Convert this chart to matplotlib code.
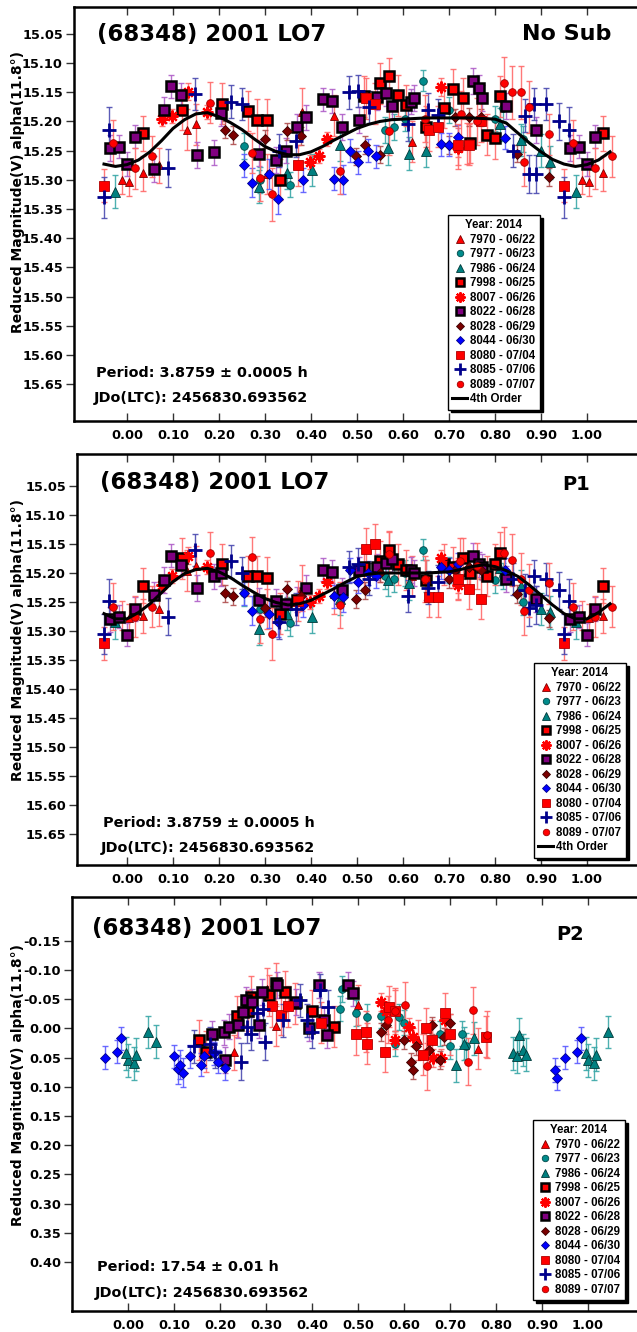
import numpy as np
import matplotlib
matplotlib.use("Agg")
import matplotlib.pyplot as plt
from matplotlib.lines import Line2D

# ---------------- data ----------------
series_names = ["7970", "7977", "7986", "7998", "8007", "8022", "8028", "8044", "8080", "8085", "8089"]
series_dates = ["06/22", "06/23", "06/24", "06/25", "06/26", "06/28", "06/29", "06/30", "07/04", "07/06", "07/07"]

# P1 phase (shared by "No Sub" and "P1" panels), No-Sub mags, P1 mags, errors
ph_7970 = [0.005, 0.035, 0.07, 0.13, 0.15, 0.305, 0.38, 0.45, 0.62, 0.72, 0.74, 0.99]
m0_7970 = [15.303, 15.289, 15.275, 15.214, 15.205, 15.290, 15.183, 15.190, 15.235, 15.246, 15.238, 15.300]
m1_7970 = [15.278, 15.274, 15.262, 15.196, 15.188, 15.262, 15.226, 15.236, 15.205, 15.212, 15.198, 15.273]
e_7970 = [0.025, 0.030, 0.030, 0.035, 0.035, 0.035, 0.040, 0.035, 0.035, 0.035, 0.035, 0.025]

ph_7977 = [0.255, 0.29, 0.355, 0.56, 0.58, 0.605, 0.644, 0.70, 0.80, 0.817, 0.86]
m0_7977 = [15.242, 15.300, 15.308, 15.215, 15.210, 15.195, 15.130, 15.180, 15.195, 15.177, 15.230]
m1_7977 = [15.235, 15.262, 15.286, 15.205, 15.210, 15.200, 15.160, 15.195, 15.212, 15.205, 15.250]
e_7977 = [0.022, 0.022, 0.022, 0.022, 0.022, 0.022, 0.018, 0.022, 0.022, 0.022, 0.022]

ph_7986 = [0.287, 0.348, 0.403, 0.462, 0.567, 0.613, 0.65, 0.81, 0.857, 0.90, 0.92, 0.975]
m0_7986 = [15.312, 15.288, 15.283, 15.240, 15.246, 15.255, 15.250, 15.205, 15.232, 15.250, 15.270, 15.320]
m1_7986 = [15.296, 15.270, 15.276, 15.245, 15.212, 15.218, 15.205, 15.192, 15.222, 15.262, 15.268, 15.285]
e_7986 = [0.028, 0.028, 0.028, 0.028, 0.028, 0.028, 0.028, 0.028, 0.028, 0.028, 0.028, 0.028]

ph_7998 = [0.034, 0.12, 0.207, 0.262, 0.283, 0.304, 0.332, 0.515, 0.55, 0.57, 0.59, 0.607, 0.65, 0.69, 0.708, 0.73, 0.745, 0.782, 0.80, 0.81]
m0_7998 = [15.220, 15.180, 15.170, 15.182, 15.197, 15.197, 15.300, 15.157, 15.135, 15.122, 15.155, 15.172, 15.209, 15.177, 15.145, 15.160, 15.237, 15.223, 15.229, 15.157]
m1_7998 = [15.222, 15.175, 15.185, 15.205, 15.206, 15.208, 15.270, 15.190, 15.180, 15.160, 15.185, 15.195, 15.212, 15.185, 15.190, 15.175, 15.200, 15.205, 15.185, 15.165]
e_7998 = [0.030, 0.035, 0.035, 0.035, 0.035, 0.035, 0.035, 0.035, 0.035, 0.030, 0.035, 0.035, 0.035, 0.035, 0.035, 0.035, 0.035, 0.035, 0.035, 0.035]

ph_8007 = [0.076, 0.098, 0.133, 0.173, 0.397, 0.418, 0.434, 0.682, 0.72]
m0_8007 = [15.196, 15.190, 15.149, 15.183, 15.270, 15.260, 15.230, 15.141, 15.246]
m1_8007 = [15.220, 15.205, 15.170, 15.190, 15.250, 15.240, 15.215, 15.175, 15.220]
e_8007 = [0.012, 0.012, 0.015, 0.012, 0.012, 0.012, 0.012, 0.015, 0.015]

ph_8022 = [0.0, 0.018, 0.059, 0.08, 0.096, 0.117, 0.153, 0.19, 0.205, 0.287, 0.324, 0.345, 0.37, 0.39, 0.427,
           0.445, 0.468, 0.504, 0.543, 0.563, 0.577, 0.618, 0.623, 0.752, 0.765, 0.772, 0.824, 0.89, 0.962, 0.982]
m0_8022 = [15.273, 15.226, 15.282, 15.180, 15.140, 15.155, 15.257, 15.253, 15.186, 15.255, 15.266, 15.250, 15.210, 15.193, 15.162,
           15.165, 15.210, 15.198, 15.158, 15.152, 15.173, 15.166, 15.160, 15.131, 15.143, 15.160, 15.173, 15.215, 15.246, 15.243]
m1_8022 = [15.306, 15.262, 15.238, 15.212, 15.170, 15.186, 15.226, 15.206, 15.200, 15.247, 15.249, 15.253, 15.246, 15.226, 15.194,
           15.198, 15.230, 15.195, 15.190, 15.183, 15.176, 15.195, 15.200, 15.170, 15.185, 15.190, 15.210, 15.245, 15.280, 15.275]
e_8022 = [0.020, 0.020, 0.022, 0.022, 0.020, 0.020, 0.022, 0.022, 0.022, 0.022, 0.022, 0.022, 0.022, 0.022, 0.020,
          0.020, 0.022, 0.022, 0.022, 0.022, 0.022, 0.022, 0.022, 0.022, 0.022, 0.022, 0.022, 0.022, 0.022, 0.020]

ph_8028 = [0.212, 0.23, 0.30, 0.348, 0.379, 0.497, 0.517, 0.55, 0.699, 0.712, 0.743, 0.77, 0.848, 0.918]
m0_8028 = [15.214, 15.223, 15.230, 15.217, 15.225, 15.260, 15.240, 15.257, 15.240, 15.193, 15.192, 15.193, 15.255, 15.295]
m1_8028 = [15.235, 15.240, 15.260, 15.228, 15.240, 15.245, 15.230, 15.200, 15.210, 15.195, 15.190, 15.195, 15.236, 15.278]
e_8028 = [0.015, 0.015, 0.015, 0.015, 0.015, 0.015, 0.015, 0.015, 0.015, 0.015, 0.015, 0.015, 0.015, 0.015]

ph_8044 = [0.254, 0.271, 0.309, 0.329, 0.383, 0.45, 0.469, 0.484, 0.503, 0.524, 0.541, 0.682, 0.699, 0.719, 0.822]
m0_8044 = [15.275, 15.305, 15.290, 15.333, 15.300, 15.298, 15.300, 15.250, 15.270, 15.250, 15.260, 15.239, 15.240, 15.226, 15.228]
m1_8044 = [15.235, 15.265, 15.270, 15.285, 15.255, 15.240, 15.242, 15.195, 15.215, 15.200, 15.205, 15.190, 15.195, 15.185, 15.195]
e_8044 = [0.020, 0.025, 0.025, 0.025, 0.020, 0.020, 0.025, 0.020, 0.020, 0.020, 0.020, 0.020, 0.020, 0.020, 0.020]

ph_8080 = [0.371, 0.52, 0.54, 0.656, 0.677, 0.72, 0.743, 0.77, 0.949]
m0_8080 = [15.275, 15.160, 15.170, 15.215, 15.209, 15.240, 15.240, 15.200, 15.310]
m1_8080 = [15.248, 15.158, 15.150, 15.241, 15.241, 15.210, 15.227, 15.244, 15.321]
e_8080 = [0.035, 0.035, 0.035, 0.035, 0.035, 0.035, 0.035, 0.035, 0.028]

ph_8085 = [0.09, 0.147, 0.225, 0.25, 0.33, 0.368, 0.482, 0.503, 0.525, 0.611, 0.654, 0.677, 0.84, 0.866,
           0.874, 0.885, 0.89, 0.91, 0.94, 0.95, 0.96]
m0_8085 = [15.280, 15.153, 15.166, 15.170, 15.250, 15.233, 15.150, 15.148, 15.175, 15.205, 15.180, 15.189, 15.250, 15.190,
           15.290, 15.170, 15.290, 15.170, 15.200, 15.330, 15.214]
m1_8085 = [15.275, 15.160, 15.180, 15.200, 15.285, 15.262, 15.190, 15.185, 15.210, 15.240, 15.225, 15.215, 15.210, 15.230,
           15.260, 15.205, 15.255, 15.210, 15.230, 15.305, 15.248]
e_8085 = [0.032, 0.028, 0.028, 0.028, 0.028, 0.028, 0.028, 0.028, 0.028, 0.028, 0.028, 0.028, 0.028, 0.028,
          0.032, 0.028, 0.032, 0.028, 0.032, 0.035, 0.038]

ph_8089 = [0.018, 0.054, 0.18, 0.272, 0.29, 0.315, 0.462, 0.57, 0.647, 0.725, 0.76, 0.82, 0.838, 0.857, 0.862, 0.874, 0.918, 0.97]
m0_8089 = [15.280, 15.260, 15.168, 15.254, 15.297, 15.325, 15.285, 15.217, 15.195, 15.187, 15.200, 15.135, 15.150, 15.150, 15.270, 15.175, 15.222, 15.237]
m1_8089 = [15.275, 15.258, 15.165, 15.173, 15.280, 15.305, 15.255, 15.168, 15.210, 15.180, 15.188, 15.165, 15.178, 15.210, 15.266, 15.230, 15.218, 15.258]
e_8089 = [0.035, 0.035, 0.035, 0.035, 0.040, 0.045, 0.040, 0.040, 0.040, 0.040, 0.040, 0.045, 0.045, 0.045, 0.040, 0.045, 0.035, 0.040]

# P2 panel: phase, residual magnitude, error
p2ph_7970 = [0.231, 0.302, 0.322, 0.50, 0.63, 0.76]
p2m_7970 = [0.041, -0.068, -0.004, -0.040, 0.020, 0.035]
p2e_7970 = [0.030, 0.035, 0.035, 0.035, 0.035, 0.035]

p2ph_7977 = [0.46, 0.466, 0.496, 0.52, 0.55, 0.58, 0.589, 0.60, 0.678, 0.70, 0.726, 0.735]
p2m_7977 = [-0.034, -0.068, -0.026, -0.020, -0.022, 0.026, -0.020, -0.010, 0.009, 0.030, 0.009, 0.030]
p2e_7977 = [0.022, 0.022, 0.022, 0.022, 0.022, 0.022, 0.022, 0.022, 0.022, 0.022, 0.022, 0.022]

p2ph_7986 = [0.0, 0.012, 0.017, 0.044, 0.06, 0.713, 0.73, 0.753, 0.837, 0.845, 0.85, 0.858, 0.865, 0.996]
p2m_7986 = [0.055, 0.060, 0.045, 0.006, 0.023, 0.063, 0.026, 0.017, 0.043, 0.048, 0.011, 0.037, 0.045, 0.043]
p2e_7986 = [0.028, 0.028, 0.028, 0.028, 0.028, 0.028, 0.028, 0.028, 0.028, 0.028, 0.028, 0.028, 0.028, 0.028]

p2ph_7998 = [0.155, 0.17, 0.238, 0.26, 0.267, 0.307, 0.322, 0.342, 0.364, 0.40, 0.448]
p2m_7998 = [0.020, 0.040, -0.021, -0.030, -0.054, -0.057, -0.077, -0.063, -0.043, -0.030, -0.003]
p2e_7998 = [0.035, 0.035, 0.035, 0.035, 0.035, 0.035, 0.035, 0.035, 0.035, 0.035, 0.035]

p2ph_8007 = [0.55, 0.56, 0.58, 0.611, 0.62, 0.664, 0.68, 0.69]
p2m_8007 = [-0.045, -0.030, 0.020, -0.003, 0.015, 0.051, 0.050, -0.015]
p2e_8007 = [0.015, 0.015, 0.015, 0.015, 0.015, 0.015, 0.015, 0.015]

p2ph_8022 = [0.183, 0.208, 0.211, 0.22, 0.24, 0.25, 0.256, 0.27, 0.284, 0.291, 0.324, 0.366, 0.394, 0.416, 0.426, 0.433, 0.479, 0.49]
p2m_8022 = [0.010, 0.007, 0.054, -0.003, -0.006, -0.028, -0.049, -0.045, -0.006, -0.062, -0.074, -0.045, 0.000, -0.074, -0.014, 0.011, -0.074, -0.060]
p2e_8022 = [0.022, 0.022, 0.022, 0.022, 0.022, 0.022, 0.022, 0.022, 0.022, 0.022, 0.022, 0.022, 0.022, 0.022, 0.022, 0.022, 0.022, 0.022]

p2ph_8028 = [0.55, 0.56, 0.60, 0.616, 0.62, 0.625, 0.655, 0.66, 0.678, 0.687, 0.70]
p2m_8028 = [0.006, -0.005, 0.020, 0.057, 0.071, 0.030, 0.037, -0.005, 0.054, 0.014, -0.010]
p2e_8028 = [0.015, 0.015, 0.015, 0.015, 0.015, 0.015, 0.015, 0.015, 0.015, 0.015, 0.015]

p2ph_8044 = [0.10, 0.108, 0.114, 0.12, 0.134, 0.159, 0.166, 0.187, 0.196, 0.21, 0.929, 0.933, 0.951, 0.977, 0.984]
p2m_8044 = [0.048, 0.070, 0.062, 0.076, 0.048, 0.062, 0.048, 0.043, 0.057, 0.068, 0.071, 0.085, 0.050, 0.040, 0.017]
p2e_8044 = [0.020, 0.025, 0.025, 0.025, 0.020, 0.020, 0.020, 0.020, 0.020, 0.020, 0.020, 0.020, 0.020, 0.020, 0.020]

p2ph_8080 = [0.313, 0.333, 0.348, 0.42, 0.496, 0.517, 0.519, 0.558, 0.567, 0.58, 0.642, 0.647, 0.66, 0.69, 0.70, 0.779]
p2m_8080 = [-0.038, -0.023, -0.038, -0.010, 0.010, 0.006, 0.026, 0.040, -0.037, -0.030, 0.045, 0.000, 0.020, -0.026, 0.010, 0.014]
p2e_8080 = [0.035, 0.035, 0.035, 0.035, 0.035, 0.035, 0.035, 0.035, 0.035, 0.035, 0.035, 0.035, 0.035, 0.035, 0.035, 0.035]

p2ph_8085 = [0.143, 0.178, 0.19, 0.245, 0.258, 0.267, 0.28, 0.293, 0.298, 0.337, 0.373, 0.39, 0.40, 0.417, 0.435]
p2m_8085 = [0.031, 0.026, 0.040, 0.057, -0.003, 0.009, -0.026, -0.034, 0.023, -0.014, -0.048, -0.014, 0.006, -0.065, -0.037]
p2e_8085 = [0.028, 0.028, 0.028, 0.032, 0.028, 0.028, 0.028, 0.028, 0.032, 0.028, 0.028, 0.028, 0.028, 0.028, 0.028]

p2ph_8089 = [0.565, 0.58, 0.602, 0.651, 0.74, 0.749, 0.78]
p2m_8089 = [-0.015, -0.030, -0.040, 0.065, 0.057, -0.031, 0.011]
p2e_8089 = [0.040, 0.040, 0.040, 0.040, 0.040, 0.040, 0.040]

# 4th-order fit curves
fit_phase = [0.0, 0.025, 0.05, 0.075, 0.1, 0.125, 0.15, 0.175, 0.2, 0.225, 0.25, 0.275, 0.3, 0.325, 0.35, 0.375, 0.4,
             0.425, 0.45, 0.475, 0.5, 0.525, 0.55, 0.575, 0.6, 0.625, 0.65, 0.675, 0.7, 0.725, 0.75, 0.775, 0.8,
             0.825, 0.85, 0.875, 0.9, 0.925, 0.95, 0.975, 1.0]
fit_nosub = [15.274, 15.266, 15.252, 15.233, 15.212, 15.197, 15.187, 15.185, 15.192, 15.202, 15.214, 15.229, 15.243,
             15.252, 15.257, 15.257, 15.252, 15.243, 15.232, 15.222, 15.212, 15.205, 15.200, 15.197, 15.196, 15.195,
             15.194, 15.194, 15.194, 15.194, 15.194, 15.195, 15.196, 15.203, 15.220, 15.237, 15.252, 15.265, 15.273,
             15.277, 15.274]
fit_p1 = [15.279, 15.268, 15.253, 15.234, 15.215, 15.201, 15.194, 15.192, 15.198, 15.208, 15.221, 15.233, 15.244,
          15.251, 15.255, 15.253, 15.247, 15.237, 15.227, 15.216, 15.206, 15.202, 15.200, 15.200, 15.200, 15.200,
          15.200, 15.199, 15.198, 15.194, 15.189, 15.186, 15.189, 15.196, 15.206, 15.221, 15.238, 15.255, 15.270,
          15.279, 15.279]

# ---------------- styling ----------------
styles = {
    "7970": dict(marker="^", mfc="#ff0000", mec="#7a0000", ms=6.0, mew=0.6, ecol="#ff6a6a"),
    "7977": dict(marker="o", mfc="#008b8b", mec="#004848", ms=5.5, mew=0.6, ecol="#3aa8a8"),
    "7986": dict(marker="^", mfc="#008080", mec="#003838", ms=6.5, mew=0.6, ecol="#3aa8a8"),
    "7998": dict(marker="s", mfc="#ff0000", mec="#000000", ms=7.6, mew=1.8, ecol="#ff6a6a"),
    "8007": dict(marker=(8, 2, 0), mfc="#ff0000", mec="#ff0000", ms=8.5, mew=1.6, ecol="#ff6a6a"),
    "8022": dict(marker="s", mfc="#800080", mec="#000000", ms=7.6, mew=1.8, ecol="#b060c8"),
    "8028": dict(marker="D", mfc="#7a0000", mec="#3a0000", ms=5.0, mew=0.6, ecol="#b05050"),
    "8044": dict(marker="D", mfc="#0000ff", mec="#00008b", ms=5.0, mew=0.6, ecol="#5a5aff"),
    "8080": dict(marker="s", mfc="#ff0000", mec="#b00000", ms=7.0, mew=0.6, ecol="#ff6a6a"),
    "8085": dict(marker="+", mfc="#00008b", mec="#00008b", ms=9.5, mew=2.0, ecol="#4a4ab0"),
    "8089": dict(marker="o", mfc="#ff0000", mec="#a00000", ms=5.5, mew=0.6, ecol="#ff6a6a"),
}

data_p = {}
g = globals()
for s in series_names:
    data_p[s] = dict(ph=g["ph_" + s], m0=g["m0_" + s], m1=g["m1_" + s], e=g["e_" + s],
                     p2ph=g["p2ph_" + s], p2m=g["p2m_" + s], p2e=g["p2e_" + s])


def wrap(ph, m, e):
    ph = np.asarray(ph, float); m = np.asarray(m, float); e = np.asarray(e, float)
    lo = ph > 0.945
    hi = ph < 0.055
    return (np.concatenate([ph, ph[lo] - 1, ph[hi] + 1]),
            np.concatenate([m, m[lo], m[hi]]),
            np.concatenate([e, e[lo], e[hi]]))


W, H = 637, 1332
fig = plt.figure(figsize=(W / 100, H / 100), dpi=100)
FONT = "DejaVu Sans"


def fx(x):
    return x / W


def fy(y):
    return 1 - y / H


def make_axes(left, top, bottom, zero_px):
    right = 640
    ax = fig.add_axes([fx(left), fy(bottom), (right - left) / W, (bottom - top) / H])
    x_lo = -(zero_px - left) / 460.0
    x_hi = 1.0 + (right - (zero_px + 460)) / 460.0
    ax.set_xlim(x_lo, x_hi)
    return ax


panels = [
    dict(left=74, top=7, bottom=421, zero=127, ylim=(15.713, 15.004), key="m0", fit=fit_nosub,
         yticks=[15.05 + 0.05 * i for i in range(13)], fmt="{:.2f}", tag="No Sub", tag_xy=(611, 34), tag_fs=16,
         title_xy=(97, 34), per="Period: 3.8759 \u00b1 0.0005 h", per_xy=(96, 373), jd_xy=(94, 398),
         leg=(448, 215), ylab_y=192),
    dict(left=77, top=454, bottom=865, zero=127, ylim=(15.703, 14.995), key="m1", fit=fit_p1,
         yticks=[15.05 + 0.05 * i for i in range(13)], fmt="{:.2f}", tag="P1", tag_xy=(590, 485), tag_fs=14,
         title_xy=(100, 483), per="Period: 3.8759 \u00b1 0.0005 h", per_xy=(103, 823), jd_xy=(101, 848),
         leg=(534, 663), ylab_y=640),
    dict(left=72, top=897, bottom=1311, zero=128, ylim=(0.484, -0.225), key="p2m", fit=None,
         yticks=[-0.15 + 0.05 * i for i in range(12)], fmt="{:.2f}", tag="P2", tag_xy=(584, 935), tag_fs=14,
         title_xy=(92, 928), per="Period: 17.54 \u00b1 0.01 h", per_xy=(97, 1267), jd_xy=(95, 1293),
         leg=(533, 1120), ylab_y=1085),
]

for pi, P in enumerate(panels):
    ax = make_axes(P["left"], P["top"], P["bottom"], P["zero"])
    ax.set_ylim(*P["ylim"])
    ax.set_xticks([0.1 * i for i in range(11)])
    ax.set_xticklabels(["{:.2f}".format(0.1 * i) for i in range(11)])
    ax.set_yticks(P["yticks"])
    ax.set_yticklabels([P["fmt"].format(v) if abs(v) > 1e-9 else "0.00" for v in P["yticks"]])
    ax.tick_params(axis="x", which="both", direction="in", top=True, bottom=True, length=6, width=1.0,
                   pad=6, labelsize=9.3, color="#333333")
    ax.tick_params(axis="y", which="both", direction="out", left=True, right=True, length=6, width=1.0,
                   pad=2, labelsize=9.3, color="#333333")
    for lab in ax.get_xticklabels() + ax.get_yticklabels():
        lab.set_fontweight("bold")
        lab.set_fontfamily(FONT)
    for sp in ax.spines.values():
        sp.set_linewidth(1.8)
        sp.set_color("black")

    for s in series_names:
        d = data_p[s]
        st = styles[s]
        if pi < 2:
            x, y, e = wrap(d["ph"], d[P["key"]], d["e"])
        else:
            x, y, e = wrap(d["p2ph"], d["p2m"], d["p2e"])
        ax.errorbar(x, y, yerr=e, fmt="none", ecolor=st["ecol"], elinewidth=1.0, capsize=2.5,
                    capthick=1.0, alpha=0.9, zorder=2)
        ax.plot(x, y, linestyle="none", marker=st["marker"], markerfacecolor=st["mfc"],
                markeredgecolor=st["mec"], markersize=st["ms"], markeredgewidth=st["mew"], zorder=3)

    handles = []
    labels = []
    for s, dt in zip(series_names, series_dates):
        st = styles[s]
        handles.append(Line2D([], [], linestyle="none", marker=st["marker"], markerfacecolor=st["mfc"],
                              markeredgecolor=st["mec"], markersize=st["ms"] * 0.85,
                              markeredgewidth=st["mew"]))
        labels.append(f"{s} - {dt}")
    if P["fit"] is not None:
        fp = np.asarray(fit_phase)
        fv = np.asarray(P["fit"])
        xs = np.concatenate([fp[fp >= 0.95] - 1, fp[1:], fp[1:][fp[1:] <= 0.055] + 1])
        ys = np.concatenate([fv[fp >= 0.95], fv[1:], fv[1:][fp[1:] <= 0.055]])
        ax.plot(xs, ys, color="black", lw=2.2, zorder=4)
        handles.append(Line2D([], [], color="black", lw=2.2))
        labels.append("4th Order")

    lx, ly = P["leg"]
    leg = ax.legend(handles, labels, title="Year: 2014", loc="upper left",
                    bbox_to_anchor=(fx(lx), fy(ly)), bbox_transform=fig.transFigure,
                    prop=dict(family="Liberation Sans", weight="bold", size=8.3),
                    title_fontproperties=dict(family="Liberation Sans", weight="bold", size=8.3),
                    frameon=True, fancybox=False, shadow=dict(color="black", alpha=1.0),
                    borderpad=0.35, labelspacing=0.22, handlelength=1.3, handletextpad=0.3,
                    borderaxespad=0.0, framealpha=1.0, edgecolor="black")
    leg.get_frame().set_linewidth(1.0)
    leg.set_zorder(10)

    tx, ty = P["title_xy"]
    fig.text(fx(tx), fy(ty), "(68348) 2001 LO7", fontsize=16.5, fontweight="bold", family=FONT,
             ha="left", va="center")
    gx, gy = P["tag_xy"]
    fig.text(fx(gx), fy(gy), P["tag"], fontsize=P["tag_fs"], fontweight="bold", family=FONT,
             ha="right", va="center")
    px, py = P["per_xy"]
    fig.text(fx(px), fy(py), P["per"], fontsize=10.4, fontweight="bold", family=FONT, ha="left", va="center")
    jx, jy = P["jd_xy"]
    fig.text(fx(jx), fy(jy), "JDo(LTC): 2456830.693562", fontsize=10.4, fontweight="bold", family=FONT,
             ha="left", va="center")
    fig.text(fx(18), fy(P["ylab_y"]), "Reduced Magnitude(V) alpha(11.8\u00b0)", rotation=90,
             fontsize=10, fontweight="bold", family=FONT, ha="center", va="center")

fig.savefig("out.png", dpi=100)
